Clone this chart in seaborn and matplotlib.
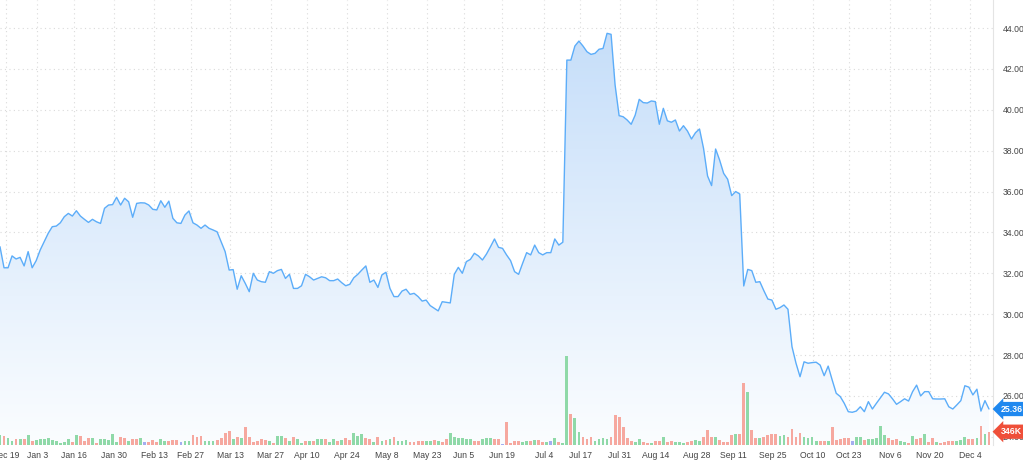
import numpy as np
import pandas as pd
import matplotlib
matplotlib.use('Agg')
import matplotlib.pyplot as plt
import matplotlib.transforms as mtransforms
from matplotlib.colors import LinearSegmentedColormap
import seaborn as sns

# daily close (one value per trading day)
price = [
    33.30, 32.27, 32.27, 32.85, 32.70, 32.78, 32.36, 33.06, 32.27, 32.62,
    33.14, 33.55, 33.96, 34.28, 34.31, 34.47, 34.77, 34.93, 34.80, 35.06,
    34.80, 34.64, 34.49, 34.64, 34.52, 34.44, 35.18, 35.34, 35.36, 35.72,
    35.34, 35.67, 35.50, 34.74, 35.42, 35.45, 35.44, 35.34, 35.13, 35.10,
    35.55, 35.23, 35.53, 34.69, 34.47, 34.44, 34.85, 35.05, 34.47, 34.36,
    34.20, 34.36, 34.20, 34.12, 34.03, 33.55, 33.06, 32.16, 32.18, 31.22,
    31.88, 31.51,
    31.10, 32.00, 31.67, 31.59, 31.56, 32.08, 32.00, 32.13, 32.19, 31.75,
    31.95, 31.26, 31.26, 31.39, 31.95, 31.83, 31.67, 31.75, 31.83, 31.78,
    31.64, 31.64, 31.72, 31.54, 31.39, 31.46, 31.78, 31.95, 32.16, 32.36,
    31.56, 31.67, 31.31, 31.92, 32.05, 31.26, 30.86, 30.86, 31.13, 31.22,
    30.97, 31.02, 30.86, 30.64, 30.69, 30.42, 30.29, 30.16, 30.61, 30.58,
    30.55, 31.95, 32.29, 32.00, 32.57, 32.68, 32.98, 32.85, 32.65, 32.94,
    33.30, 33.68,
    33.27, 33.22, 32.90, 32.62, 32.08, 31.95, 32.49, 33.01, 32.90, 33.38,
    33.01, 32.90, 33.01, 33.01, 33.68, 33.38, 33.52,
    42.43, 42.43, 43.12, 43.36, 43.12, 42.84, 42.71, 42.76, 42.96, 43.00,
    43.74, 43.69, 41.21, 39.71, 39.66, 39.50, 39.29, 39.74, 40.51, 40.35,
    40.33, 40.43, 40.40, 39.29, 40.07, 39.46, 39.39, 39.50, 38.96, 39.22,
    38.96, 38.57, 38.88, 39.06, 38.11, 36.76, 36.29, 38.08, 37.54, 36.89,
    36.60, 35.80, 36.00, 35.88,
    31.38, 32.19, 32.13, 31.56, 31.59, 31.15, 30.74, 30.69, 30.24, 30.32,
    30.45, 30.24, 28.41, 27.60, 26.94, 27.67, 27.60, 27.63, 27.65, 27.51,
    26.99, 27.46, 26.78, 26.13, 25.97, 25.64, 25.23, 25.20, 25.26, 25.47,
    25.23, 25.72, 25.36, 25.64, 25.91, 26.18, 26.10, 25.86, 25.59, 25.72,
    25.86, 25.75, 26.21, 26.53, 26.00, 26.21, 26.21, 25.86, 25.85, 25.85,
    25.86, 25.47, 25.36, 25.56, 25.77, 26.50, 26.43, 26.05, 26.33, 25.26,
    25.77, 25.36,
]

# daily volume in thousands
volume_k = [
    260, 242, 174, 104, 156, 156, 156, 260, 104, 130,
    156, 148, 174, 130, 112, 60, 86, 156, 86, 260,
    242, 104, 174, 190, 44, 148, 156, 130, 286, 86,
    200, 174, 104, 156, 156, 174, 86, 70, 130, 86,
    156, 104, 104, 130, 130, 70, 104, 112, 260, 216,
    242, 104, 104, 104, 130, 190, 320, 364, 156, 200,
    174, 476,
    200, 86, 112, 156, 130, 112, 60, 234, 234, 174,
    104, 216, 156, 60, 112, 112, 112, 148, 156, 156,
    86, 156, 104, 130, 174, 130, 304, 234, 278, 174,
    156, 86, 200, 104, 130, 156, 216, 112, 112, 130,
    86, 86, 104, 104, 104, 104, 130, 104, 70, 156,
    304, 216, 174, 174, 156, 156, 104, 104, 156, 174,
    174, 156,
    156, 26, 590, 60, 104, 104, 70, 104, 104, 130,
    130, 86, 86, 104, 190, 86, 60, 2314, 798, 694,
    346, 216, 156, 200, 112, 148, 174, 156, 216, 780,
    720, 460, 190, 104, 86, 156, 86, 44, 60, 104,
    112, 216, 70, 112, 86, 70, 60, 86, 104, 130,
    112, 200, 390, 216, 216, 130, 86, 86, 260, 278,
    286, 1604, 1386,
    390, 190, 174, 216, 260, 278, 286, 242, 260, 216,
    408, 216, 320, 200, 174, 200, 104, 104, 104, 104,
    460, 130, 148, 174, 174, 112, 216, 216, 130, 148,
    156, 174, 502, 260, 190, 130, 148, 104, 86, 60,
    242, 156, 190, 278, 86, 174, 70, 60, 86, 104,
    104, 112, 130, 200, 148, 148, 174, 502, 286, 346,
]

# bar colour per day: g = up, r = down, b = unchanged
vol_dir = list(
    "grggrgrgrg" "ggggggggrg" "rrrgrggggg" "rrgrrgbrrr" "ggrrrbggrr" "rgggrrrrgr" "gr"
    "rrrrrgrggr" "grggrgrggr" "ggrgrrgggr" "rgrgrgrggg" "rrrrggrgrr" "ggggggrrgg" "gr"
    "rbrrrrggrg" "rrgbgrggrg" "grrrggggrr" "rrrrggrrgr" "rgrrgggrrg" "grrrgrrrrg" "rrg"
    "rrgrrrrggr" "rrrggggrrg" "rrrrrbggrg" "ggggrrrggr" "grrgrrgrrr" "rgggrrgrgr"
)

tick_pos = [1.5, 9.3, 18.4, 28.4, 38.3, 47.4, 57.2, 67.3, 76.4, 86.3, 96.3, 106.2, 115.4,
            124.9, 135.3, 144.3, 154.2, 163.2, 173.4, 182.3, 192.3, 202.2, 211.2, 221.4,
            231.3, 241.3]
tick_labels = ['Dec 19', 'Jan 3', 'Jan 16', 'Jan 30', 'Feb 13', 'Feb 27', 'Mar 13', 'Mar 27',
               'Apr 10', 'Apr 24', 'May 8', 'May 23', 'Jun 5', 'Jun 19', 'Jul 4', 'Jul 17',
               'Jul 31', 'Aug 14', 'Aug 28', 'Sep 11', 'Sep 25', 'Oct 10', 'Oct 23', 'Nov 6',
               'Nov 20', 'Dec 4']
y_ticks = [24, 26, 28, 30, 32, 34, 36, 38, 40, 42, 44]
last_price = 25.36
last_volume_k = 346


def main():
    sns.set_style('white')
    plt.rcParams['font.family'] = ['Liberation Sans', 'DejaVu Sans']

    df = pd.DataFrame({'day': np.arange(len(price)), 'close': price,
                       'volume': volume_k, 'dir': vol_dir})
    bar_colors = {'g': '#8fd9a8', 'r': '#f6a89f', 'b': '#a4aef0'}

    fig = plt.figure(figsize=(10.23, 4.62), dpi=100)
    ax = fig.add_axes([0, 17 / 462, 993 / 1023, 445 / 462])

    y_lo, y_hi = 23.6, 45.37
    x_hi = 247

    # price line
    sns.lineplot(data=df, x='day', y='close', ax=ax, color='#5cadf9', linewidth=1.0, zorder=3)

    # gradient area under the line
    poly = ax.fill_between(df['day'], df['close'], y_lo, facecolor='none', edgecolor='none')
    cmap = LinearSegmentedColormap.from_list('fade', ['#fbfdff', '#c2dcf9'])
    grad = np.linspace(0, 1, 256).reshape(-1, 1)
    im = ax.imshow(grad, extent=[0, x_hi, y_lo, y_hi], origin='lower', aspect='auto',
                   cmap=cmap, zorder=1)
    im.set_clip_path(poly.get_paths()[0], transform=ax.transData)

    # volume bars on a twin axis
    vax = ax.twinx()
    vax.bar(df['day'], df['volume'], width=0.7,
            color=df['dir'].map(bar_colors), linewidth=0, zorder=2)
    vax.set_ylim(0, 11570)
    vax.set_yticks([])
    vax.set_ylabel('')
    for s in vax.spines.values():
        s.set_visible(False)

    ax.set_xlim(0, x_hi)
    ax.set_ylim(y_lo, y_hi)
    ax.set_xticks(tick_pos, tick_labels)
    ax.set_yticks(y_ticks, [f'{v:.2f}' for v in y_ticks])
    ax.yaxis.tick_right()
    ax.tick_params(axis='y', length=0, pad=7, labelsize=6.2, labelcolor='#444444')
    ax.tick_params(axis='x', length=0, pad=4, labelsize=6.2, labelcolor='#444444')
    ax.set_xlabel('')
    ax.set_ylabel('')
    ax.grid(True, color='#dadada', linestyle=(0, (1, 3)), linewidth=0.8)
    for side in ['top', 'left', 'bottom']:
        ax.spines[side].set_visible(False)
    ax.spines['right'].set_color('#e4e4e4')
    ax.spines['right'].set_linewidth(0.8)

    # last value tags
    tr_p = mtransforms.blended_transform_factory(ax.transAxes, ax.transData)
    tr_v = mtransforms.blended_transform_factory(ax.transAxes, vax.transData)
    tag = dict(ha='left', va='center', color='white', fontsize=6.3, fontweight='bold',
               clip_on=False, zorder=10)
    vax.text(1.0075, last_price, f'{last_price:.2f}', transform=tr_p,
             bbox=dict(boxstyle='larrow,pad=0.3', fc='#1f88ef', ec='none'), **tag)
    vax.text(1.0075, last_volume_k, f'{last_volume_k}K', transform=tr_v,
             bbox=dict(boxstyle='larrow,pad=0.3', fc='#ef4f39', ec='none'), **tag)

    fig.savefig('out.png', dpi=100)


if __name__ == "__main__":
    main()
